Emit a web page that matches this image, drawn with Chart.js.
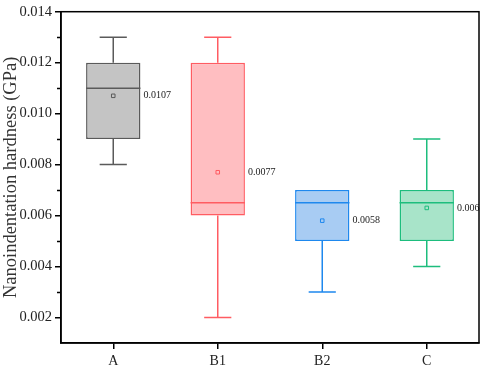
<!DOCTYPE html>
<html>
<head>
<meta charset="utf-8">
<script src="https://cdn.jsdelivr.net/npm/chart.js@4.4.0/dist/chart.umd.min.js"></script>
<style>
  body { margin: 0; background: #fff; }
  #wrap { width: 484px; height: 371px; }
</style>
</head>
<body>
<div id="wrap"><canvas id="boxChart"></canvas></div>
<script>
const groups = ['A', 'B1', 'B2', 'C'];
const mins = [0.008, 0.002, 0.003, 0.004];
const q1s = [0.009, 0.006, 0.005, 0.005];
const medians = [0.011, 0.0065, 0.0065, 0.0065];
const q3s = [0.012, 0.012, 0.007, 0.007];
const maxs = [0.013, 0.013, 0.007, 0.009];
const means = [0.0107, 0.0077, 0.0058, 0.0063];
const meanLabels = ['0.0107', '0.0077', '0.0058', '0.006'];

const edgeColors = ['#5a5a5a', '#ff5c62', '#1e88ee', '#1dbd7d'];
const fillColors = ['#c4c4c4', '#ffbec1', '#a8ccf3', '#a8e4c9'];

const boxExtras = {
    id: 'boxExtras',
    afterDatasetsDraw(chart) {
        const ctx = chart.ctx;
        const x = chart.scales.x;
        const y = chart.scales.y;
        const meta = chart.getDatasetMeta(0);
        ctx.save();
        groups.forEach((g, i) => {
            const bar = meta.data[i];
            const cx = x.getPixelForValue(i);
            const half = bar.width / 2;
            ctx.strokeStyle = edgeColors[i];
            ctx.lineWidth = 1.5;
            ctx.beginPath();
            // whiskers
            if (maxs[i] > q3s[i]) {
                ctx.moveTo(cx, y.getPixelForValue(q3s[i]));
                ctx.lineTo(cx, y.getPixelForValue(maxs[i]));
                ctx.moveTo(cx - half / 2, y.getPixelForValue(maxs[i]));
                ctx.lineTo(cx + half / 2, y.getPixelForValue(maxs[i]));
            }
            if (mins[i] < q1s[i]) {
                ctx.moveTo(cx, y.getPixelForValue(q1s[i]));
                ctx.lineTo(cx, y.getPixelForValue(mins[i]));
                ctx.moveTo(cx - half / 2, y.getPixelForValue(mins[i]));
                ctx.lineTo(cx + half / 2, y.getPixelForValue(mins[i]));
            }
            // median
            ctx.moveTo(cx - half, y.getPixelForValue(medians[i]));
            ctx.lineTo(cx + half, y.getPixelForValue(medians[i]));
            ctx.stroke();

            ctx.fillStyle = '#222';
            ctx.font = '10px "Liberation Serif"';
            ctx.textBaseline = 'middle';
            ctx.textAlign = 'left';
            ctx.fillText(meanLabels[i], cx + half + 3, y.getPixelForValue(means[i]));
        });

        // minor ticks on y
        ctx.strokeStyle = '#000';
        ctx.lineWidth = 1.5;
        ctx.beginPath();
        for (let v = 3; v <= 13; v += 2) {
            const py = Math.round(y.getPixelForValue(v / 1000)) + 0.5;
            ctx.moveTo(chart.chartArea.left - 4, py);
            ctx.lineTo(chart.chartArea.left, py);
        }
        ctx.stroke();

        // frame
        const a = chart.chartArea;
        ctx.lineWidth = 1.5;
        ctx.strokeRect(a.left, a.top, a.right - a.left, a.bottom - a.top);
        ctx.restore();
    }
};

new Chart(document.getElementById('boxChart'), {
    type: 'bar',
    data: {
        labels: groups,
        datasets: [{
            order: 1,
            data: groups.map((g, i) => [q1s[i], q3s[i]]),
            backgroundColor: fillColors,
            borderColor: edgeColors,
            borderWidth: 1.5,
            borderSkipped: false,
            barPercentage: 0.52,
            categoryPercentage: 1
        }, {
            order: 0,
            type: 'line',
            data: means,
            showLine: false,
            pointStyle: 'rect',
            pointRadius: 2.5,
            pointBorderWidth: 1,
            pointBackgroundColor: 'rgba(0,0,0,0)',
            pointBorderColor: edgeColors
        }]
    },
    options: {
        responsive: true,
        maintainAspectRatio: false,
        animation: false,
        layout: { padding: { top: 7, right: 5, left: 0, bottom: 0 } },
        plugins: {
            legend: { display: false },
            tooltip: { enabled: false }
        },
        scales: {
            x: {
                grid: { display: true, drawOnChartArea: false, offset: false, tickLength: 6, color: '#000', lineWidth: 1.5 },
                border: { color: '#000', width: 1.5 },
                ticks: { color: '#222', font: { family: 'Liberation Serif', size: 14 }, padding: 4 },
                afterFit: (s) => { s.height = 28; }
            },
            y: {
                min: 0.001,
                max: 0.014,
                grid: { drawOnChartArea: false, tickLength: 6, color: '#000', lineWidth: 1.5 },
                border: { color: '#000', width: 1.5 },
                ticks: {
                    stepSize: 0.002,
                    includeBounds: false,
                    color: '#222',
                    padding: 3,
                    font: { family: 'Liberation Serif', size: 14.5 },
                    callback: (v) => v.toFixed(3)
                },
                title: {
                    display: true,
                    text: 'Nanoindentation hardness (GPa)',
                    color: '#333',
                    font: { family: 'Liberation Serif', size: 18.5 },
                    padding: 0
                },
                afterFit: (s) => { s.width = 61; }
            }
        }
    },
    plugins: [boxExtras]
});
</script>
</body>
</html>
